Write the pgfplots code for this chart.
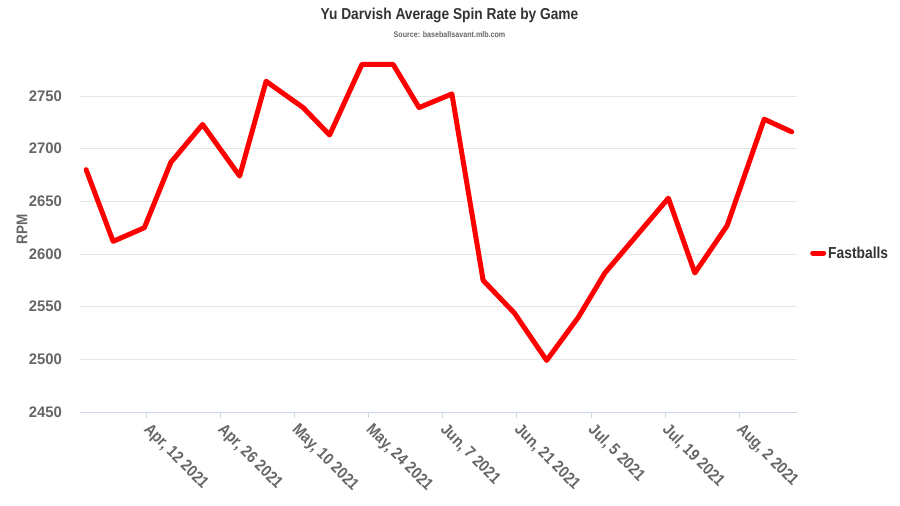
\documentclass[border=0pt]{standalone}
\usepackage{fontspec}
\setmainfont{Liberation Sans}[FakeStretch=0.87]
\newfontfamily\numfont{Liberation Sans}[FakeStretch=0.97]
\usepackage{pgfplots}
\pgfplotsset{compat=1.18}
\definecolor{titlec}{HTML}{333333}
\definecolor{labc}{HTML}{666666}
\definecolor{gridc}{HTML}{E6E6E6}
\definecolor{axc}{HTML}{CCD6EB}
\begin{document}
\begin{tikzpicture}
\useasboundingbox (-80pt,-94pt) rectangle (820pt,412pt);
\begin{axis}[
  scale only axis,
  width=717pt, height=358.1pt,
  xmin=-12.56, xmax=122.9,
  ymin=2450, ymax=2790,
  clip=false,
  axis x line*=bottom, axis y line*=left,
  y axis line style={draw=none},
  x axis line style={draw=axc, line width=1pt},
  ymajorgrids, grid style={draw=gridc, line width=1pt},
  ytick={2450,2500,2550,2600,2650,2700,2750},
  ytick style={draw=none},
  xtick={0,14,28,42,56,70,84,98,112},
  xticklabels={{Apr, 12 2021},{Apr, 26 2021},{May, 10 2021},{May, 24 2021},{Jun, 7 2021},{Jun, 21 2021},{Jul, 5 2021},{Jul, 19 2021},{Aug, 2 2021}},
  xtick style={draw=axc, line width=1pt},
  tick align=outside,
  major tick length=6pt,
  /pgf/number format/assume math mode=true,
  /pgf/number format/1000 sep={},
  yticklabel style={font=\numfont\bfseries\fontsize{15.3}{17}\selectfont, text=labc, inner sep=0pt, anchor=east, xshift=-12pt},
  xticklabel style={font=\bfseries\fontsize{16.4}{18}\selectfont, text=labc, inner sep=0pt, xshift=5pt, yshift=-4pt, rotate=-45, anchor=north west},
  ylabel={RPM},
  every axis y label/.style={at={(axis description cs:-0.0809,0.51)}, rotate=90, anchor=center, font=\bfseries\fontsize{15.5}{17}\selectfont, text=labc},
  legend style={at={(axis description cs:1,0.444)}, anchor=west, xshift=13pt, draw=none, fill=none, inner sep=0pt, font=\bfseries\fontsize{15.9}{18}\selectfont, text=titlec, legend cell align=left},
  legend image code/.code={\draw[line width=5pt, red] (0pt,0pt) -- (11pt,0pt);},
]
\addplot[red, line width=5pt, line join=round, line cap=round] coordinates {
(-11.4,2680) (-6.3,2612) (-0.4,2625) (4.6,2687) (10.6,2723) (17.6,2674)
(22.6,2764) (29.6,2739) (34.6,2713) (40.7,2780) (46.6,2780) (51.5,2739)
(57.7,2752) (63.6,2575) (69.5,2544) (75.6,2499) (81.6,2540) (86.6,2582)
(98.6,2653) (103.6,2582) (109.7,2627) (116.7,2728) (121.9,2716)
};
\addlegendentry{Fastballs}
\end{axis}
\node[font=\bfseries\fontsize{15.8}{18}\selectfont, text=titlec] at (369.5pt,396.5pt) {Yu Darvish Average Spin Rate by Game};
\node[font=\bfseries\fontsize{8.2}{10}\selectfont, text=labc] at (369.5pt,377.5pt) {Source: baseballsavant.mlb.com};
\end{tikzpicture}
\end{document}
